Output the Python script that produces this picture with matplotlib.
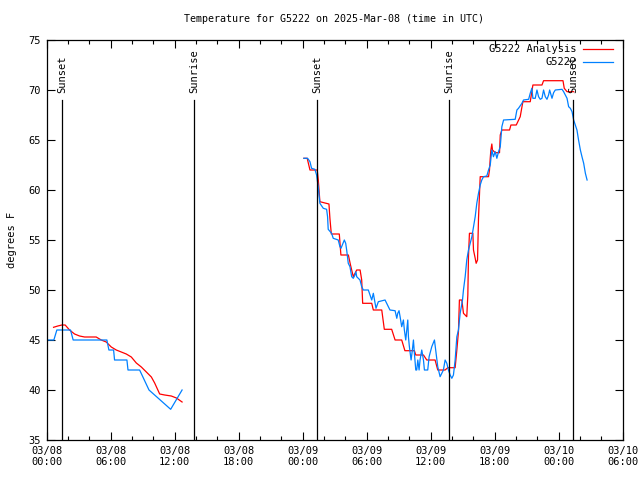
import matplotlib
matplotlib.use("Agg")
import matplotlib.pyplot as plt
from matplotlib.ticker import MultipleLocator, FixedLocator

# hours since 2025-03-08 00:00 UTC
obs1_h = [0.0, 0.69, 0.97, 2.25, 2.5, 5.66, 5.85, 6.29, 6.38, 7.54, 7.64, 8.73, 9.61, 11.64, 12.71]
obs1_t = [45.0, 45.0, 46.0, 46.0, 45.0, 45.0, 44.0, 44.0, 43.0, 43.0, 42.0, 42.0, 40.0, 38.07, 40.0]

ana1_h = [0.66, 1.06, 1.44, 1.75, 2.16, 2.63, 3.10, 3.57, 4.66, 5.13, 5.6, 6.07, 6.54, 7.01, 7.48,
          7.95, 8.42, 8.89, 9.36, 9.83, 10.14, 10.61, 11.08, 11.7, 12.18, 12.71]
ana1_t = [46.27, 46.4, 46.5, 46.5, 46.0, 45.6, 45.4, 45.3, 45.3, 45.0, 44.8, 44.3, 44.0, 43.8, 43.6,
          43.3, 42.7, 42.3, 41.8, 41.3, 40.7, 39.6, 39.5, 39.4, 39.2, 38.8]

obs2_h = [24.13, 24.48, 24.7, 24.85, 25.16, 25.32, 25.47, 25.63, 25.95, 26.26, 26.35, 26.41, 26.73,
          26.88, 27.35, 27.51, 27.61, 27.73, 27.92, 28.05, 28.14, 28.29, 28.45, 28.61, 28.76, 28.92,
          29.01, 29.08, 29.39, 29.55, 29.7, 30.17, 30.49, 30.64, 30.89, 31.11, 31.74, 32.05, 32.2,
          32.68, 32.84, 32.93, 33.05, 33.15, 33.3, 33.46, 33.55, 33.68, 33.87, 33.93, 34.02, 34.18,
          34.3, 34.4, 34.49, 34.62, 34.71, 34.81, 34.93, 35.02, 35.18, 35.34, 35.43, 35.74, 35.87,
          36.12, 36.37, 36.49, 36.68, 36.9, 37.06, 37.21, 37.37, 37.53, 37.68, 37.84, 38.0, 38.15,
          38.31, 38.47, 38.62, 38.78, 39.0, 39.09, 39.25, 39.4, 39.56, 39.88, 40.03, 40.19, 40.34,
          40.5, 40.66, 40.81, 40.97, 41.28, 41.44, 41.6, 41.75, 41.9, 42.07, 42.22, 42.38, 42.54,
          42.69, 42.85, 43.94, 44.1, 44.25, 44.57, 44.72, 45.2, 45.35, 45.5, 45.6, 45.82, 45.98,
          46.13, 46.29, 46.45, 46.6, 46.76, 46.92, 47.07, 47.17, 47.39, 47.54, 47.7, 48.33, 48.48,
          48.8, 48.95, 49.11, 49.27, 49.42, 49.58, 49.73, 49.88, 50.05, 50.2, 50.36, 50.52, 50.68]
obs2_t = [63.17, 63.17, 62.83, 62.17, 62.07, 61.5, 60.33, 58.67, 58.17, 58.07, 57.33, 56.07, 55.67,
          55.17, 55.0, 54.33, 54.17, 54.5, 55.0, 54.67, 54.0, 52.67, 52.33, 51.33, 51.17, 51.5,
          51.83, 51.33, 51.0, 50.33, 50.0, 50.0, 49.0, 49.67, 48.17, 48.83, 49.0, 48.33, 48.0,
          47.93, 47.17, 47.67, 47.93, 47.33, 46.33, 47.0, 46.0, 45.0, 47.0, 45.33, 44.33, 43.0,
          44.0, 45.0, 43.67, 42.0, 42.0, 43.0, 42.0, 43.0, 44.0, 43.0, 42.0, 42.0, 43.33,
          44.33, 45.0, 44.0, 42.33, 41.33, 41.67, 42.0, 43.0, 42.67, 42.0, 41.5, 41.17, 41.5,
          43.0, 45.33, 46.0, 47.67, 49.0, 50.0, 51.33, 53.0, 54.0, 55.33, 56.33, 57.33, 58.67,
          59.67, 60.5, 61.0, 61.33, 61.4, 62.0, 62.5, 64.0, 63.33, 63.83, 63.17, 63.83, 64.33,
          66.33, 67.0, 67.07, 68.0, 68.17, 68.67, 69.0, 69.07, 69.67, 70.17, 69.17, 69.17, 70.0,
          69.33, 69.07, 69.17, 70.0, 69.33, 69.07, 69.5, 70.0, 69.17, 69.73, 70.0, 70.07, 69.83,
          69.17, 68.33, 68.17, 67.83, 67.0, 66.5, 66.0, 65.0, 64.0, 63.33, 62.67, 61.67, 61.0]

ana2_h = [24.13, 24.44, 24.7, 25.38, 25.48, 25.63, 26.48, 26.57, 26.7, 27.45, 27.6, 28.3, 28.5,
          28.76, 29.08, 29.4, 29.55, 29.64, 30.49, 30.64, 31.43, 31.67, 32.36, 32.68, 33.3, 33.6,
          34.49, 34.62, 35.34, 35.65, 36.43, 36.68, 37.37, 37.62, 38.31, 38.47, 38.62, 38.71, 38.94,
          39.09, 39.4, 39.5, 39.56, 39.65, 39.97, 40.03, 40.19, 40.28, 40.41, 40.5, 40.66, 41.44,
          41.53, 41.6, 41.66, 41.75, 41.81, 42.07, 42.47, 42.54, 42.69, 43.41, 43.54, 44.04, 44.41,
          44.66, 45.35, 45.6, 46.45, 46.6, 48.42, 48.54, 48.8, 49.42]
ana2_t = [63.17, 63.17, 62.0, 62.0, 61.0, 58.83, 58.6, 57.17, 55.6, 55.6, 53.5, 53.5, 52.5,
          51.33, 52.0, 52.0, 51.0, 48.67, 48.67, 48.0, 48.0, 46.07, 46.07, 45.0, 45.0, 43.93,
          43.93, 43.5, 43.5, 43.0, 43.0, 42.0, 42.0, 42.23, 42.23, 44.0, 45.83, 49.0, 49.0,
          47.67, 47.33, 49.5, 53.33, 55.67, 55.67, 54.0, 53.17, 52.67, 53.0, 57.17, 61.33, 61.33,
          62.0, 63.17, 64.0, 64.6, 64.0, 63.73, 63.73, 65.5, 66.0, 66.0, 66.5, 66.5, 67.33,
          68.83, 68.83, 70.5, 70.5, 70.93, 70.93, 70.17, 69.83, 69.83]

sun_h = [1.48, 13.86, 25.39, 37.75, 49.39]
sun_labels = ["Sunset", "Sunrise", "Sunset", "Sunrise", "Sunset"]

xtick_h = [0, 6, 12, 18, 24, 30, 36, 42, 48, 54]
xtick_labels = ["03/08\n00:00", "03/08\n06:00", "03/08\n12:00", "03/08\n18:00",
                "03/09\n00:00", "03/09\n06:00", "03/09\n12:00", "03/09\n18:00",
                "03/10\n00:00", "03/10\n06:00"]

RED = "#ff0000"
BLUE = "#0080ff"
FONT = "DejaVu Sans Mono"

fig = plt.figure(figsize=(6.4, 4.8), dpi=100)
L, R, T, B = 46.5, 622.5, 40, 440
ax = fig.add_axes([L / 640, 1 - B / 480, (R - L) / 640, (B - T) / 480])

ax.plot(ana1_h, ana1_t, color=RED, lw=0.9)
ax.plot(ana2_h, ana2_t, color=RED, lw=0.9)
ax.plot(obs1_h, obs1_t, color=BLUE, lw=0.9)
ax.plot(obs2_h, obs2_t, color=BLUE, lw=0.9)

for h, lab in zip(sun_h, sun_labels):
    ax.plot([h, h], [35, 69.0], color="black", lw=0.9)
    ax.text(h, 69.7, lab, rotation=90, ha="center", va="bottom", fontsize=7.5, family=FONT)

ax.set_xlim(0, 54)
ax.set_ylim(35, 75)
ax.xaxis.set_major_locator(FixedLocator(xtick_h))
ax.set_xticklabels(xtick_labels, fontsize=7.5, family=FONT)
ax.xaxis.set_minor_locator(MultipleLocator(2))
ax.yaxis.set_major_locator(MultipleLocator(5))
ax.yaxis.set_minor_locator(MultipleLocator(5))
for lbl in ax.get_yticklabels():
    lbl.set_fontsize(7.5)
    lbl.set_family(FONT)
ax.tick_params(which="major", direction="in", length=6, width=0.8, top=True, right=True, pad=4, colors="black")
ax.tick_params(which="minor", direction="in", length=3, width=0.8, top=True, right=True)
for s in ax.spines.values():
    s.set_linewidth(0.9)

ax.set_ylabel("degrees F", fontsize=7.5, family=FONT, labelpad=8)

# legend (gnuplot style: text right-aligned, sample line to the right)
ax.text(0.921, 0.9775, "G5222 Analysis", transform=ax.transAxes, ha="right", va="center",
        fontsize=7.5, family=FONT)
ax.plot([0.932, 0.983], [0.9775, 0.9775], transform=ax.transAxes, color=RED, lw=0.9)
ax.text(0.921, 0.945, "G5222", transform=ax.transAxes, ha="right", va="center",
        fontsize=7.5, family=FONT)
ax.plot([0.932, 0.983], [0.945, 0.945], transform=ax.transAxes, color=BLUE, lw=0.9)

ax.text(0.5, 1 + 21 / 400, "Temperature for G5222 on 2025-Mar-08 (time in UTC)", ha="center",
        va="center", fontsize=7.2, family=FONT, transform=ax.transAxes)

fig.savefig("out.png", dpi=100)
